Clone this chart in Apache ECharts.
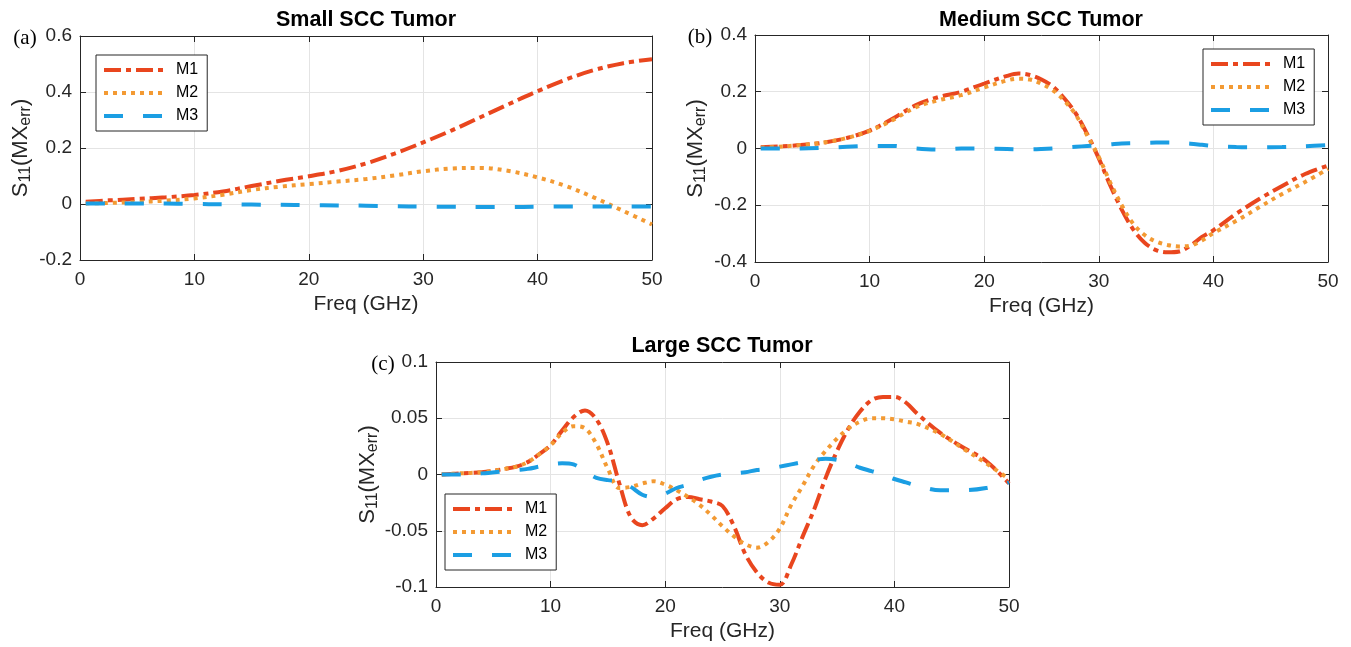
<!DOCTYPE html>
<html>
<head>
<meta charset="utf-8">
<script src="https://cdn.jsdelivr.net/npm/echarts@6/dist/echarts.min.js"></script>
<style>
  html, body { margin: 0; padding: 0; background: #ffffff; }
  #chart { width: 1351px; height: 647px; }
</style>
</head>
<body>
<div id="chart"></div>
<script>
// ---- data (GHz / S11 error) ----
const seriesNames = ['M1', 'M2', 'M3'];

// (a) small tumor
const freqSmall = [0.5, 2.5, 5, 7.5, 10, 12.5, 15, 17.5, 20, 22.5, 25, 27.5, 30, 32.5, 35, 37.5, 40, 42.5, 45, 47.5, 50];
const m1Small = [0.008, 0.013, 0.018, 0.024, 0.032, 0.045, 0.064, 0.083, 0.099, 0.118, 0.145, 0.18, 0.22, 0.263, 0.31, 0.357, 0.403, 0.445, 0.479, 0.503, 0.517];
const m2Small = [0.002, 0.004, 0.007, 0.012, 0.02, 0.033, 0.05, 0.062, 0.071, 0.08, 0.089, 0.102, 0.117, 0.127, 0.129, 0.118, 0.095, 0.064, 0.022, -0.025, -0.073];
const m3Small = [0.002, 0.002, 0.002, 0.002, 0.0, -0.001, -0.002, -0.003, -0.004, -0.005, -0.006, -0.008, -0.009, -0.01, -0.011, -0.011, -0.01, -0.009, -0.009, -0.009, -0.009];

// (b) medium tumor
const freqMedium = [0.5, 2, 4, 6, 8, 10, 12, 14, 16, 18, 20, 22, 23, 24, 25, 26, 27, 28, 29, 30, 31, 32, 33, 34, 35, 36, 37, 38, 39, 40, 42, 44, 46, 48, 50];
const m1Medium = [0.004, 0.007, 0.012, 0.021, 0.037, 0.063, 0.105, 0.152, 0.181, 0.2, 0.229, 0.256, 0.264, 0.259, 0.243, 0.218, 0.176, 0.123, 0.05, -0.035, -0.13, -0.215, -0.285, -0.332, -0.358, -0.366, -0.363, -0.342, -0.312, -0.288, -0.23, -0.178, -0.132, -0.09, -0.06];
const m2Medium = [0.003, 0.006, 0.012, 0.021, 0.037, 0.062, 0.1, 0.145, 0.17, 0.188, 0.215, 0.24, 0.246, 0.243, 0.228, 0.205, 0.168, 0.118, 0.045, -0.03, -0.12, -0.2, -0.265, -0.305, -0.328, -0.34, -0.345, -0.342, -0.324, -0.298, -0.255, -0.207, -0.16, -0.118, -0.072];
const m3Medium = [0.0, 0.0, 0.0, 0.002, 0.006, 0.009, 0.009, 0.0, -0.004, 0.0, 0.0, -0.002, -0.003, -0.003, -0.002, 0.0, 0.003, 0.006, 0.009, 0.012, 0.015, 0.018, 0.019, 0.02, 0.021, 0.021, 0.02, 0.017, 0.013, 0.009, 0.005, 0.004, 0.005, 0.008, 0.012];

// (c) large tumor
const freqLarge = [0.5, 2, 4, 6, 7, 8, 9, 10, 11, 12, 13, 14, 15, 16, 17, 18, 19, 20, 21, 22, 23, 24, 25, 26, 27, 28, 29, 30, 31, 32, 33, 34, 35, 36, 37, 38, 39, 40, 41, 42, 44, 46, 48, 50];
const m1Large = [0.0, 0.001, 0.002, 0.005, 0.007, 0.011, 0.018, 0.026, 0.039, 0.051, 0.057, 0.049, 0.027, -0.008, -0.038, -0.045, -0.039, -0.03, -0.022, -0.02, -0.022, -0.024, -0.028, -0.046, -0.071, -0.087, -0.096, -0.098, -0.08, -0.055, -0.031, -0.003, 0.021, 0.041, 0.056, 0.066, 0.069, 0.069, 0.064, 0.054, 0.037, 0.024, 0.012, -0.008];
const m2Large = [0.0, 0.001, 0.002, 0.005, 0.007, 0.011, 0.018, 0.026, 0.037, 0.043, 0.041, 0.027, 0.005, -0.012, -0.011, -0.008, -0.006, -0.009, -0.014, -0.02, -0.027, -0.036, -0.046, -0.055, -0.062, -0.065, -0.06, -0.048, -0.027, -0.01, 0.008, 0.021, 0.032, 0.041, 0.047, 0.05, 0.05, 0.049, 0.047, 0.045, 0.036, 0.023, 0.01, -0.004];
const m3Large = [0.0, 0.0, 0.001, 0.003, 0.004, 0.005, 0.007, 0.009, 0.01, 0.009, 0.003, -0.003, -0.005, -0.006, -0.011, -0.018, -0.02, -0.017, -0.012, -0.009, -0.005, -0.002, 0.0, 0.001, 0.002, 0.004, 0.005, 0.007, 0.009, 0.011, 0.013, 0.014, 0.013, 0.01, 0.006, 0.003, 0.0, -0.004, -0.007, -0.01, -0.014, -0.014, -0.012, -0.007];

// ---- styling ----
const FONT = '"Liberation Sans", Arial, Helvetica, sans-serif';
const AXIS_COLOR = '#262626';
const GRID_COLOR = '#e4e4e4';
const lineColors = ['#e9461e', '#f39a33', '#1b9ee3'];
const lineDashes = [[17, 5, 5, 5], [4, 5], [19, 20]];

const panels = [
  { title: 'Small SCC Tumor', tag: '(a)', freq: freqSmall, values: [m1Small, m2Small, m3Small],
    grid: { left: 80, top: 36, width: 572, height: 224 }, yMin: -0.2, yMax: 0.6, yStep: 0.2,
    titleX: 366, titleY: 20, tagX: 25, tagY: 38, legend: { left: 96, top: 55 } },
  { title: 'Medium SCC Tumor', tag: '(b)', freq: freqMedium, values: [m1Medium, m2Medium, m3Medium],
    grid: { left: 755, top: 35, width: 573, height: 227 }, yMin: -0.4, yMax: 0.4, yStep: 0.2,
    titleX: 1041, titleY: 20, tagX: 700, tagY: 37, legend: { left: 1203, top: 49 } },
  { title: 'Large SCC Tumor', tag: '(c)', freq: freqLarge, values: [m1Large, m2Large, m3Large],
    grid: { left: 436, top: 362, width: 573, height: 225 }, yMin: -0.1, yMax: 0.1, yStep: 0.05,
    titleX: 722, titleY: 346, tagX: 383, tagY: 364, legend: { left: 445, top: 494 } }
];

const grids = [], xAxes = [], yAxes = [], series = [], legends = [], graphics = [];

panels.forEach((p, i) => {
  grids.push(Object.assign({ show: false, containLabel: false, outerBoundsMode: 'none' }, p.grid));

  const line = { show: true, onZero: false, lineStyle: { color: AXIS_COLOR, width: 1 } };
  const tick = { show: true, inside: true, length: 6, lineStyle: { color: AXIS_COLOR, width: 1 } };

  // bottom + top x axes
  xAxes.push({
    gridIndex: i, type: 'value', min: 0, max: 50, interval: 10,
    axisLine: line, axisTick: tick,
    axisLabel: { fontSize: 19, color: AXIS_COLOR, fontFamily: FONT, margin: 10 },
    splitLine: { show: true, lineStyle: { color: GRID_COLOR, width: 1 } },
    name: 'Freq (GHz)', nameLocation: 'middle', nameGap: 34,
    nameTextStyle: { fontSize: 21, color: AXIS_COLOR, fontFamily: FONT }
  });
  xAxes.push({
    gridIndex: i, type: 'value', position: 'top', min: 0, max: 50, interval: 10,
    axisLine: line, axisTick: tick, axisLabel: { show: false }, splitLine: { show: false }
  });

  // left + right y axes
  yAxes.push({
    gridIndex: i, type: 'value', min: p.yMin, max: p.yMax, interval: p.yStep,
    axisLine: line, axisTick: tick,
    axisLabel: { fontSize: 19, color: AXIS_COLOR, fontFamily: FONT, margin: 8 },
    splitLine: { show: true, lineStyle: { color: GRID_COLOR, width: 1 } },
    name: '{n|S}{s|11}{n|(MX}{s|err}{n|)}', nameLocation: 'middle', nameRotate: 90, nameGap: 46,
    nameTextStyle: {
      color: AXIS_COLOR, fontFamily: FONT, fontSize: 22,
      rich: {
        n: { fontSize: 22, color: AXIS_COLOR, fontFamily: FONT, lineHeight: 26 },
        s: { fontSize: 16, color: AXIS_COLOR, fontFamily: FONT, lineHeight: 16, verticalAlign: 'bottom' }
      }
    }
  });
  yAxes.push({
    gridIndex: i, type: 'value', position: 'right', min: p.yMin, max: p.yMax, interval: p.yStep,
    axisLine: line, axisTick: tick, axisLabel: { show: false }, splitLine: { show: false }
  });

  p.values.forEach((vals, k) => {
    series.push({
      name: seriesNames[k], type: 'line',
      xAxisIndex: i * 2, yAxisIndex: i * 2,
      data: p.freq.map((f, j) => [f, vals[j]]),
      symbol: 'none', showSymbol: false, smooth: 0.35,
      lineStyle: { color: lineColors[k], width: 4, type: lineDashes[k], cap: 'butt' },
      itemStyle: { color: lineColors[k] },
      emphasis: { disabled: true },
      z: 2 + k
    });
  });

  // legend: line samples only, the marker is hidden
  legends.push({
    data: seriesNames, orient: 'vertical',
    left: p.legend.left, top: p.legend.top,
    itemWidth: 62, itemHeight: 14, itemGap: 7,
    padding: [7, 9, 7, 6],
    borderColor: '#262626', borderWidth: 1, backgroundColor: '#ffffff',
    itemStyle: { opacity: 0 },
    lineStyle: { width: 4 },
    textStyle: { fontSize: 16, color: '#000000', fontFamily: FONT, padding: [0, 0, 0, 5] },
    selectedMode: false
  });

  graphics.push({
    type: 'text', x: p.titleX, y: p.titleY,
    style: { text: p.title, fill: '#000000', font: 'bold 21.5px ' + FONT, align: 'center', verticalAlign: 'middle' }
  });
  graphics.push({
    type: 'text', x: p.tagX, y: p.tagY,
    style: { text: p.tag, fill: '#000000', font: '21px "Liberation Serif", "Times New Roman", serif', align: 'center', verticalAlign: 'middle' }
  });
});

const chart = echarts.init(document.getElementById('chart'), null, { renderer: 'canvas' });
chart.setOption({
  animation: false,
  backgroundColor: '#ffffff',
  grid: grids,
  xAxis: xAxes,
  yAxis: yAxes,
  legend: legends,
  series: series,
  graphic: graphics
});
</script>
</body>
</html>
